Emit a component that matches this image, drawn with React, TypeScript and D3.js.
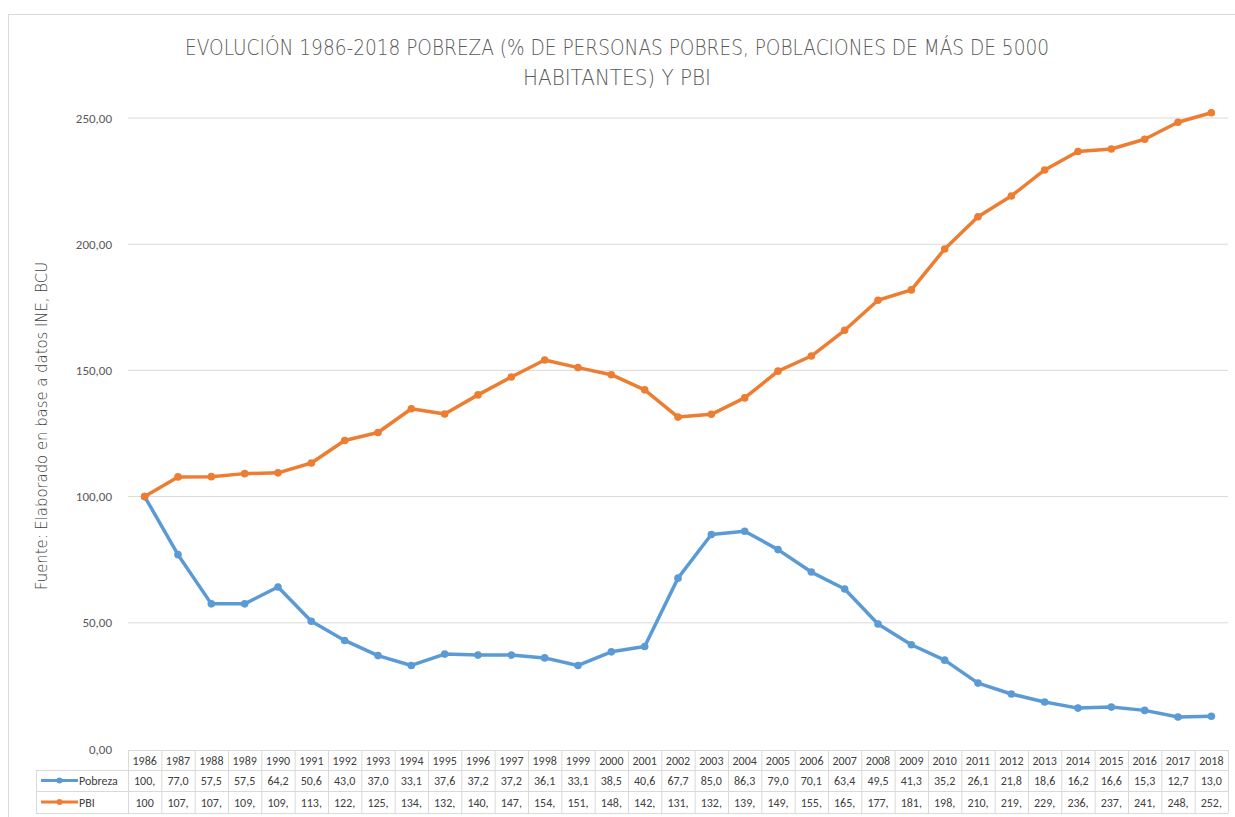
import React from "react";
import * as d3 from "d3";

const years = [1986,1987,1988,1989,1990,1991,1992,1993,1994,1995,1996,1997,1998,1999,2000,2001,2002,2003,2004,2005,2006,2007,2008,2009,2010,2011,2012,2013,2014,2015,2016,2017,2018];
const pobreza = [100,77.0,57.5,57.5,64.2,50.6,43.0,37.0,33.1,37.6,37.2,37.2,36.1,33.1,38.5,40.6,67.7,85.0,86.3,79.0,70.1,63.4,49.5,41.3,35.2,26.1,21.8,18.6,16.2,16.6,15.3,12.7,13.0];
const pbi = [100,107.8,107.9,109.1,109.4,113.3,122.2,125.4,134.8,132.7,140.3,147.4,154.1,151.1,148.3,142.3,131.5,132.6,139.1,149.7,155.7,165.9,177.8,181.9,198.1,210.9,219.1,229.4,236.7,237.7,241.6,248.3,252.1];
const pobrezaLabels = ["100,","77,0","57,5","57,5","64,2","50,6","43,0","37,0","33,1","37,6","37,2","37,2","36,1","33,1","38,5","40,6","67,7","85,0","86,3","79,0","70,1","63,4","49,5","41,3","35,2","26,1","21,8","18,6","16,2","16,6","15,3","12,7","13,0"];
const pbiLabels = ["100","107,","107,","109,","109,","113,","122,","125,","134,","132,","140,","147,","154,","151,","148,","142,","131,","132,","139,","149,","155,","165,","177,","181,","198,","210,","219,","229,","236,","237,","241,","248,","252,"];
const yTicks = [0,50,100,150,200,250];
const seriesNames = ["Pobreza","PBI"];
const colors = ["#5B9BD5","#ED7D31"];

export default function App() {
  const W = 1235, H = 817;
  const left = 128, right = 1228, top = 118, bottom = 749;
  const x = d3.scaleBand<number>().domain(years).range([left, right]);
  const cx = (yr: number) => (x(yr) as number) + x.bandwidth() / 2;
  const y = d3.scaleLinear().domain([0, 250]).range([bottom, top]);
  const line = d3.line<number>().x((_, i) => cx(years[i])).y(v => y(v));
  const font = "Calibri, Carlito, Lato, 'Open Sans', 'Liberation Sans', sans-serif";
  const lightFont = "'DejaVu Sans', sans-serif";
  const rowTop = 750, r1 = 770, r2 = 791, r3 = 813;
  const legX = 36;
  const series = [pobreza, pbi];
  const labels = [pobrezaLabels, pbiLabels];
  const rowMid = [(r1 + r2) / 2, (r2 + r3) / 2];
  return (
    <svg width={W} height={H} style={{ position: "absolute", left: 0, top: 0, fontFamily: font }}>
      <rect x={0} y={0} width={W} height={H} fill="#fff" />
      <rect x={8.5} y={14.5} width={W + 10} height={H + 10} fill="#fff" stroke="#d9d9d9" />
      <text x={617} y={55} textAnchor="middle" fontFamily={lightFont} fontSize={22} fontWeight={200} fill="#595959" textLength={864} lengthAdjust="spacingAndGlyphs">EVOLUCIÓN 1986-2018 POBREZA (% DE PERSONAS POBRES, POBLACIONES DE MÁS DE 5000</text>
      <text x={617} y={85} textAnchor="middle" fontFamily={lightFont} fontSize={22} fontWeight={200} fill="#595959" textLength={188} lengthAdjust="spacingAndGlyphs">HABITANTES) Y PBI</text>
      {yTicks.map(t => (
        <g key={t}>
          {t > 0 && <line x1={left} x2={right} y1={y(t)} y2={y(t)} stroke="#d9d9d9" strokeWidth={1} />}
          <text x={112} y={y(t) + 4.5} textAnchor="end" fontSize={13} fill="#595959">{d3.format(".2f")(t).replace(".", ",")}</text>
        </g>
      ))}
      <text transform={`translate(47,${426}) rotate(-90)`} textAnchor="middle" fontFamily={lightFont} fontSize={15} fontWeight={200} fill="#404040" textLength={328} lengthAdjust="spacingAndGlyphs">Fuente: Elaborado en base a datos INE, BCU</text>
      {series.map((s, si) => (
        <g key={si}>
          <path d={line(s) as string} fill="none" stroke={colors[si]} strokeWidth={3.5} strokeLinejoin="round" strokeLinecap="round" />
          {s.map((v, i) => <circle key={i} cx={cx(years[i])} cy={y(v)} r={3.8} fill={colors[si]} />)}
        </g>
      ))}
      <g stroke="#d9d9d9" strokeWidth={1}>
        <line x1={left} x2={right} y1={rowTop + 0.5} y2={rowTop + 0.5} />
        <line x1={legX} x2={right} y1={r1 + 0.5} y2={r1 + 0.5} />
        <line x1={legX} x2={right} y1={r2 + 0.5} y2={r2 + 0.5} />
        <line x1={legX} x2={right} y1={r3 + 0.5} y2={r3 + 0.5} />
        <line x1={legX + 0.5} x2={legX + 0.5} y1={r1} y2={r3} />
        {years.map(yr => <line key={yr} x1={(x(yr) as number) + 0.5} x2={(x(yr) as number) + 0.5} y1={rowTop} y2={r3} />)}
        <line x1={right + 0.5} x2={right + 0.5} y1={rowTop} y2={r3} />
      </g>
      {years.map(yr => (
        <text key={yr} x={cx(yr)} y={(rowTop + r1) / 2 + 4.5} textAnchor="middle" fontSize={12} fill="#404040">{yr}</text>
      ))}
      {labels.map((ls, si) => ls.map((l, i) => (
        <text key={si + "-" + i} x={cx(years[i])} y={rowMid[si] + 4.5} textAnchor="middle" fontSize={12} fill="#404040">{l}</text>
      )))}
      {seriesNames.map((n, si) => (
        <g key={n}>
          <line x1={41} x2={78} y1={rowMid[si]} y2={rowMid[si]} stroke={colors[si]} strokeWidth={3} />
          <circle cx={59.5} cy={rowMid[si]} r={3} fill={colors[si]} />
          <text x={79} y={rowMid[si] + 4.5} fontSize={12} fill="#404040">{n}</text>
        </g>
      ))}
    </svg>
  );
}
